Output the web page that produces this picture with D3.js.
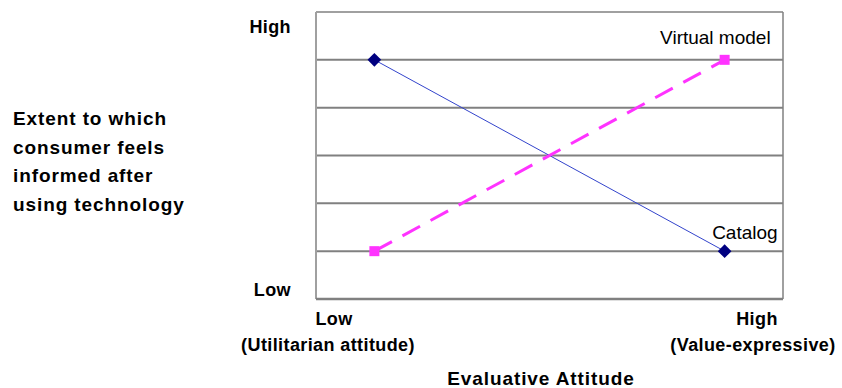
<!DOCTYPE html>
<html>
<head>
<meta charset="utf-8">
<script src="https://cdn.jsdelivr.net/npm/d3@7"></script>
<style>
  body { margin: 0; background: #fff; }
  svg text { font-family: "Liberation Sans", Arial, sans-serif; fill: #000; }
  .bold { font-weight: bold; letter-spacing: 0.4px; }
</style>
</head>
<body>
<div id="chart"></div>
<script>
// Data: x positions on a 0..8 axis, y on a 0..6 axis
const xPositions = [1, 7];
const catalogValues = [5, 1];
const virtualValues = [1, 5];
const yGridValues = [1, 2, 3, 4, 5];
const yTitleLines = ["Extent to which", "consumer feels", "informed after", "using technology"];

const W = 842, H = 388;
const margin = { top: 12, right: 59, bottom: 89, left: 316 };
const width = W - margin.left - margin.right;
const height = H - margin.top - margin.bottom;

const svg = d3.select("#chart").append("svg")
    .attr("width", W)
    .attr("height", H);

const g = svg.append("g")
    .attr("transform", `translate(${margin.left},${margin.top})`);

const xScale = d3.scaleLinear().domain([0, 8]).range([0, width]);
const yScale = d3.scaleLinear().domain([0, 6]).range([height, 0]);

// gridlines
g.selectAll(".grid")
    .data(yGridValues)
    .enter().append("line")
    .attr("x1", 0).attr("x2", width)
    .attr("y1", d => yScale(d)).attr("y2", d => yScale(d))
    .attr("stroke", "#808080")
    .attr("stroke-width", 2);

// plot frame
g.append("line").attr("x1", 0).attr("x2", width).attr("y1", 0).attr("y2", 0)
    .attr("stroke", "#808080").attr("stroke-width", 1.5);
g.append("line").attr("x1", width).attr("x2", width).attr("y1", 0).attr("y2", height)
    .attr("stroke", "#808080").attr("stroke-width", 1.5);
g.append("line").attr("x1", 0).attr("x2", 0).attr("y1", 0).attr("y2", height)
    .attr("stroke", "#a0a0a0").attr("stroke-width", 2);
g.append("line").attr("x1", 0).attr("x2", width).attr("y1", height).attr("y2", height)
    .attr("stroke", "#808080").attr("stroke-width", 2.5);

const line = d3.line()
    .x((d, i) => xScale(xPositions[i]))
    .y(d => yScale(d));

// Catalog series
g.append("path")
    .datum(catalogValues)
    .attr("d", line)
    .attr("fill", "none")
    .attr("stroke", "#3344cc")
    .attr("stroke-width", 1);

g.selectAll(".diamond")
    .data(catalogValues)
    .enter().append("path")
    .attr("d", d3.symbol().type(d3.symbolDiamond2).size(120))
    .attr("transform", (d, i) => `translate(${xScale(xPositions[i])},${yScale(d)})`)
    .attr("fill", "#000080");

// Virtual model series
g.append("path")
    .datum(virtualValues)
    .attr("d", line)
    .attr("fill", "none")
    .attr("stroke", "#ff33ff")
    .attr("stroke-width", 3)
    .attr("stroke-dasharray", "20,12");

g.selectAll(".square")
    .data(virtualValues)
    .enter().append("rect")
    .attr("x", (d, i) => xScale(xPositions[i]) - 5)
    .attr("y", d => yScale(d) - 5)
    .attr("width", 10)
    .attr("height", 10)
    .attr("fill", "#ff33ff");

// series labels
g.append("text")
    .attr("x", xScale(7) + 46)
    .attr("y", yScale(5) - 16)
    .attr("text-anchor", "end")
    .attr("font-size", "19px")
    .text("Virtual model");

g.append("text")
    .attr("x", xScale(7) + 53)
    .attr("y", yScale(1) - 12)
    .attr("text-anchor", "end")
    .attr("font-size", "19px")
    .text("Catalog");

// y axis end labels
svg.append("text").attr("class", "bold")
    .attr("x", 291).attr("y", 33)
    .attr("text-anchor", "end")
    .attr("font-size", "18px")
    .text("High");

svg.append("text").attr("class", "bold")
    .attr("x", 291).attr("y", 296)
    .attr("text-anchor", "end")
    .attr("font-size", "18px")
    .text("Low");

// x axis end labels
svg.append("text").attr("class", "bold")
    .attr("x", 334).attr("y", 325)
    .attr("text-anchor", "middle")
    .attr("font-size", "18px")
    .text("Low");
svg.append("text").attr("class", "bold")
    .attr("x", 328).attr("y", 351)
    .attr("text-anchor", "middle")
    .attr("font-size", "18px")
    .text("(Utilitarian attitude)");

svg.append("text").attr("class", "bold")
    .attr("x", 757).attr("y", 325)
    .attr("text-anchor", "middle")
    .attr("font-size", "18px")
    .text("High");
svg.append("text").attr("class", "bold")
    .attr("x", 753).attr("y", 351)
    .attr("text-anchor", "middle")
    .attr("font-size", "18px")
    .text("(Value-expressive)");

// axis titles
svg.append("text").attr("class", "bold")
    .attr("x", 541).attr("y", 385)
    .attr("text-anchor", "middle")
    .attr("font-size", "19px")
    .style("letter-spacing", "0.9px")
    .text("Evaluative Attitude");

svg.append("text").attr("class", "bold")
    .attr("font-size", "19px")
    .style("letter-spacing", "0.9px")
    .selectAll("tspan")
    .data(yTitleLines)
    .enter().append("tspan")
    .attr("x", 13)
    .attr("y", (d, i) => 125 + i * 28.5)
    .text(d => d);
</script>
</body>
</html>
